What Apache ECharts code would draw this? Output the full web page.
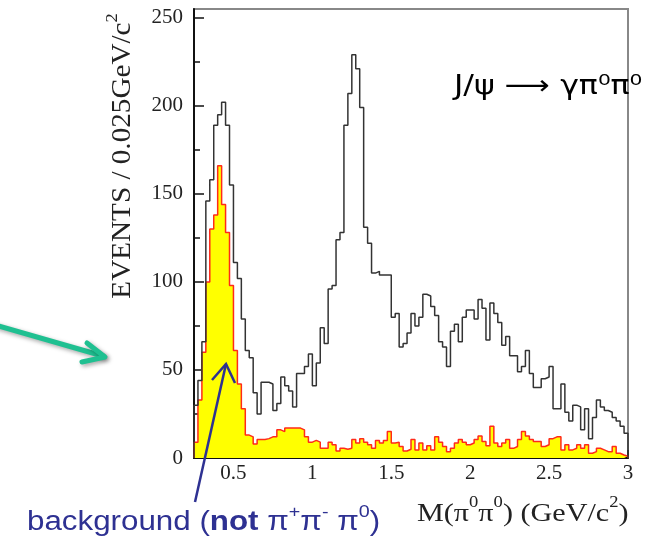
<!DOCTYPE html>
<html>
<head>
<meta charset="utf-8">
<script src="https://cdn.jsdelivr.net/npm/echarts@6/dist/echarts.min.js"></script>
<style>
html, body { margin: 0; padding: 0; background: #fff; }
#chart { width: 654px; height: 537px; }
</style>
</head>
<body>
<div id="chart"></div>
<script>
// M(pi0 pi0) 直方图, 每个 bin 0.025 GeV
const binStart = 0.25
const binWidth = 0.025

// 全部事例 (黑线)
const eventCounts = [
  30, 44, 66, 146, 158, 189, 195, 202, 189, 155,
  111, 102, 79, 61, 57, 37, 25, 43, 43, 42,
  27, 31, 46, 41, 38, 29, 48, 48, 52, 59,
  41, 54, 74, 65, 96, 98, 124, 128, 189, 207,
  229, 221, 199, 131, 122, 105, 106, 104, 104, 104,
  80, 82, 63, 65, 71, 82, 75, 80, 93, 92,
  86, 81, 66, 63, 52, 72, 76, 66, 80, 84,
  84, 79, 90, 85, 67, 88, 82, 77, 64, 69,
  58, 58, 49, 52, 61, 48, 40, 40, 45, 46,
  52, 28, 28, 42, 26, 21, 30, 29, 16, 28,
  11, 23, 33, 29, 27, 26, 23, 21, 18, 14
]

// 本底 (黄色填充, 红线)
const bkgCounts = [
  9, 33, 60, 100, 130, 138, 166, 144, 128, 98,
  61, 42, 28, 13, 12, 8, 10.5, 10.5, 11, 12,
  12, 16, 15, 17, 17, 17, 17, 16, 12, 9,
  10, 9, 5.5, 5.5, 9, 7.5, 4, 5.5, 5, 5.5,
  10.5, 8.5, 11, 9, 7.5, 5.5, 10, 8.5, 10, 15,
  8.5, 9, 6.5, 4, 5, 10.5, 4.5, 8.5, 4.5, 7,
  4.5, 12, 9, 6.5, 3.5, 5.5, 8.5, 10.5, 9, 7.5,
  8.5, 10.5, 12.5, 9.3, 7, 18, 8.5, 6.5, 8.5, 10.5,
  5.5, 6.5, 10.5, 15, 12.5, 10.5, 9.3, 9.3, 6.5, 7.5,
  11, 12, 12, 4.6, 7.5, 4.6, 5.5, 7.5, 5.5, 7.5,
  2.7, 3.6, 5.5, 4.6, 3.6, 3.6, 6.5, 2.7, 1.7, 1
]

const xMajorTicks = [0.5, 1, 1.5, 2, 2.5, 3]
const xMinorTicks = [0.75, 1.25, 1.75, 2.25, 2.75]
const yMajorTicks = [0, 50, 100, 150, 200, 250]
const yMinorTicks = [25, 75, 125, 175, 225]

// 把 bin 内容转成阶梯线的点
function stepData(counts) {
  const pts = [[binStart, 0]]
  counts.forEach((v, i) => pts.push([binStart + i * binWidth, v]))
  const xEnd = binStart + counts.length * binWidth
  pts.push([xEnd, counts[counts.length - 1]])
  pts.push([xEnd, 0])
  return pts
}

const serif = 'Liberation Serif'
const tickFont = { fontFamily: serif, fontSize: 21, color: '#222' }
const blue = '#2e3192'
const green = '#1fc091'
const arrowShadow = { shadowBlur: 4, shadowColor: 'rgba(0,0,0,0.35)', shadowOffsetX: 2, shadowOffsetY: 2 }

const chart = echarts.init(document.getElementById('chart'))

const option = {
  animation: false,
  backgroundColor: '#fff',
  grid: {
    left: 194,
    right: 26,
    top: 9,
    bottom: 79,
    show: true,
    borderColor: '#888',
    borderWidth: 2,
    outerBoundsMode: 'none'
  },
  xAxis: [
    {
      type: 'value',
      min: binStart,
      max: 3,
      position: 'bottom',
      axisLine: { onZero: false, lineStyle: { color: '#111', width: 2 } },
      axisTick: { inside: true, length: 8, lineStyle: { color: '#111', width: 1.5 }, customValues: xMajorTicks },
      axisLabel: { ...tickFont, margin: 5, customValues: xMajorTicks },
      splitLine: { show: false }
    },
    {
      type: 'value',
      min: binStart,
      max: 3,
      position: 'bottom',
      axisLine: { show: false },
      axisTick: { inside: true, length: 5, lineStyle: { color: '#111', width: 1.5 }, customValues: xMinorTicks },
      axisLabel: { show: false },
      splitLine: { show: false }
    }
  ],
  yAxis: [
    {
      type: 'value',
      min: 0,
      max: 255,
      position: 'left',
      axisLine: { show: true, onZero: false, lineStyle: { color: '#111', width: 2 } },
      axisTick: { show: true, inside: true, length: 10, lineStyle: { color: '#111', width: 1.5 }, customValues: yMajorTicks },
      axisLabel: { ...tickFont, margin: 11, customValues: yMajorTicks },
      splitLine: { show: false }
    },
    {
      type: 'value',
      min: 0,
      max: 255,
      position: 'left',
      axisLine: { show: false },
      axisTick: { show: true, inside: true, length: 6, lineStyle: { color: '#111', width: 1.5 }, customValues: yMinorTicks },
      axisLabel: { show: false },
      splitLine: { show: false }
    }
  ],
  series: [
    {
      name: 'background',
      type: 'line',
      step: 'end',
      xAxisIndex: 0,
      yAxisIndex: 0,
      data: stepData(bkgCounts),
      showSymbol: false,
      lineStyle: { color: '#ff2a1a', width: 1.5 },
      areaStyle: { color: '#ffff00', opacity: 1 },
      z: 2
    },
    {
      name: 'events',
      type: 'line',
      step: 'end',
      xAxisIndex: 0,
      yAxisIndex: 0,
      data: stepData(eventCounts),
      showSymbol: false,
      lineStyle: { color: '#333', width: 1.5 },
      z: 3
    }
  ],
  graphic: [
    {
      type: 'text',
      x: 454,
      y: 87,
      scaleX: 1.17,
      z: 100,
      style: {
        text: 'J/ψ ⟶ γπ⁰π⁰',
        fontFamily: 'DejaVu Sans',
        fontSize: 27,
        fill: '#000',
        verticalAlign: 'middle'
      }
    },
    {
      type: 'text',
      x: 120,
      y: 156,
      rotation: Math.PI / 2,
      scaleX: 1.08,
      z: 100,
      style: {
        text: '{n|EVENTS / 0.025GeV/c}{s|2}',
        align: 'center',
        verticalAlign: 'middle',
        rich: {
          n: { fontFamily: serif, fontSize: 27, fill: '#222', lineHeight: 32, verticalAlign: 'bottom' },
          s: { fontFamily: serif, fontSize: 17, fill: '#222', lineHeight: 32, verticalAlign: 'top' }
        }
      }
    },
    {
      type: 'text',
      x: 417,
      y: 511,
      scaleX: 1.16,
      z: 100,
      style: {
        text: '{n|M(π}{s|0}{n|π}{s|0}{n|) (GeV/c}{s|2}{n|)}',
        verticalAlign: 'middle',
        rich: {
          n: { fontFamily: serif, fontSize: 26, fill: '#222', lineHeight: 32, verticalAlign: 'bottom' },
          s: { fontFamily: serif, fontSize: 16, fill: '#222', lineHeight: 32, verticalAlign: 'top' }
        }
      }
    },
    {
      type: 'text',
      x: 27,
      y: 520,
      scaleX: 1.16,
      z: 100,
      style: {
        text: '{n|background (}{b|not}{n| π}{s|+}{n|π}{s|-}{n| π}{s|0}{n|)}',
        verticalAlign: 'middle',
        rich: {
          n: { fontFamily: 'Liberation Sans', fontSize: 27, fill: blue, lineHeight: 32, verticalAlign: 'bottom' },
          b: { fontFamily: 'Liberation Sans', fontSize: 27, fontWeight: 'bold', fill: blue, lineHeight: 32, verticalAlign: 'bottom' },
          s: { fontFamily: 'Liberation Sans', fontSize: 17, fill: blue, lineHeight: 32, verticalAlign: 'top' }
        }
      }
    },
    // 绿色箭头
    {
      type: 'polyline',
      z: 100,
      shape: { points: [[-5, 325], [103, 356]] },
      style: { stroke: green, lineWidth: 5, lineCap: 'round', ...arrowShadow }
    },
    {
      type: 'polyline',
      z: 100,
      shape: { points: [[87, 343], [105, 357], [82, 362]] },
      style: { stroke: green, lineWidth: 5, lineCap: 'round', lineJoin: 'round', fill: null, ...arrowShadow }
    },
    // 蓝色箭头
    {
      type: 'polyline',
      z: 100,
      shape: { points: [[195, 502], [226, 364]] },
      style: { stroke: blue, lineWidth: 2.5 }
    },
    {
      type: 'polyline',
      z: 100,
      shape: { points: [[212, 380], [226, 364], [235, 383]] },
      style: { stroke: blue, lineWidth: 2.5, fill: null }
    }
  ]
}

chart.setOption(option)
window.addEventListener('resize', () => chart.resize())
</script>
</body>
</html>
